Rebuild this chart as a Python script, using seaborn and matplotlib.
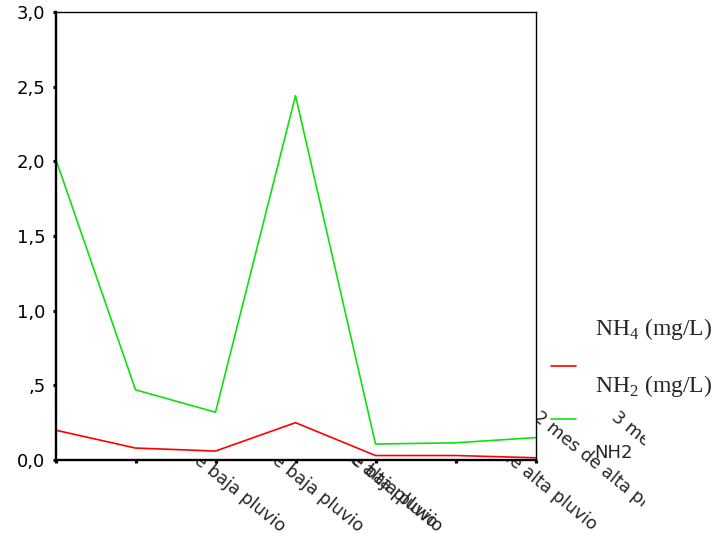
import pandas as pd
import matplotlib.pyplot as plt
import seaborn as sns
from matplotlib.lines import Line2D
from matplotlib.transforms import Bbox, TransformedBbox

# -------------------------
# Data
# -------------------------
periodos = [0, 1, 2, 3, 4, 5, 6]
nh4 = [0.20, 0.08, 0.06, 0.25, 0.03, 0.03, 0.015]
nh2 = [2.02, 0.47, 0.32, 2.44, 0.107, 0.115, 0.15]

etiquetas_x = ["", "", "1 mes de baja pluvio", "2 mes de baja pluvio",
               "3 mes de baja pluvio", "", "1 mes de alta pluvio",
               "2 mes de alta pluvio", "3 mes de alta pluvio"]
etiqueta_solapada = "Inicio de alta pluvio"   # drawn on top of tick 4

ticks_y = [0.0, 0.5, 1.0, 1.5, 2.0, 2.5, 3.0]
etiquetas_y = ["0,0", ",5", "1,0", "1,5", "2,0", "2,5", "3,0"]

series = ["NH4 (mg/L)", "NH2 (mg/L)"]
colores = {"NH4 (mg/L)": "#ff0000", "NH2 (mg/L)": "#10e010"}

df = pd.DataFrame({
    "periodo": periodos * 2,
    "valor": nh4 + nh2,
    "serie": [series[0]] * len(nh4) + [series[1]] * len(nh2),
})

# -------------------------
# Style
# -------------------------
sns.set_style("ticks")
plt.rcParams["font.family"] = ["DejaVu Sans"]
plt.rcParams["mathtext.fontset"] = "custom"
plt.rcParams["mathtext.rm"] = "Liberation Serif"

W_PX, H_PX = 719, 537
fig = plt.figure(figsize=(W_PX / 100, H_PX / 100), dpi=100)
fig.patch.set_facecolor("white")

left, bottom, height = 55.5 / W_PX, 77 / H_PX, 448 / H_PX
width = 480 / W_PX

# axes that only carries the (half hidden) category labels
ax_lab = fig.add_axes([left, bottom, 640 / W_PX, height], zorder=0)
# main plotting axes, opaque white, sits on top of the labels
ax = fig.add_axes([left, bottom, width, height], zorder=1)

# -------------------------
# Lines
# -------------------------
sns.lineplot(data=df, x="periodo", y="valor", hue="serie", palette=colores,
             ax=ax, legend=False, linewidth=1.2, sort=False)

ax.set_facecolor("white")
ax.set_xlim(0, 6)
ax.set_ylim(0, 3)
ax.set_xticks(periodos)
ax.set_xticklabels([""] * len(periodos))
ax.set_yticks(ticks_y)
ax.set_yticklabels(etiquetas_y)
ax.set_xlabel("")
ax.set_ylabel("")
ax.tick_params(direction="out", length=2.3, width=2.3, color="black",
               pad=5, labelsize=13, labelcolor="black")
for side in ["left", "bottom"]:
    ax.spines[side].set_linewidth(1.7)
for side in ["top", "right"]:
    ax.spines[side].set_linewidth(1.0)
for sp in ax.spines.values():
    sp.set_visible(True)
    sp.set_color("black")

# -------------------------
# Category labels (rotated, centred on the ticks)
# -------------------------
ax_lab.patch.set_visible(False)
for sp in ax_lab.spines.values():
    sp.set_visible(False)
ax_lab.set_xlim(0.1625, 8.1625)
ax_lab.set_ylim(0, 1)
ax_lab.set_yticks([])
ax_lab.xaxis.remove_overlapping_locs = False
ax_lab.set_xticks(range(len(etiquetas_x)))
ax_lab.set_xticklabels(etiquetas_x, rotation=-39, rotation_mode="anchor",
                       ha="center", va="center", fontsize=12.5)
ax_lab.set_xticks([4], labels=[etiqueta_solapada], minor=True,
                  rotation=-39, rotation_mode="anchor",
                  ha="center", va="center", fontsize=12.5)
ax_lab.tick_params(axis="x", which="both", length=0, pad=8)

clip = TransformedBbox(Bbox.from_extents(0, 0, 645 / W_PX, 1), fig.transFigure)
for lab in ax_lab.get_xticklabels() + ax_lab.get_xticklabels(minor=True):
    lab.set_clip_on(True)
    lab.set_clip_box(clip)

# -------------------------
# Legend (text above each key, as in the original export)
# -------------------------
leyenda = [(r"NH$_4$ (mg/L)", series[0], 335, 366),
           (r"NH$_2$ (mg/L)", series[1], 392, 419)]
for texto, serie, y_txt, y_lin in leyenda:
    fig.text(595 / W_PX, 1 - y_txt / H_PX, texto, family="Liberation Serif",
             fontsize=17, va="baseline", ha="left")
    fig.add_artist(Line2D([551 / W_PX, 576 / W_PX], [1 - y_lin / H_PX] * 2,
                          transform=fig.transFigure, color=colores[serie],
                          linewidth=1.2))
fig.text(594 / W_PX, 1 - 458 / H_PX, "NH2", fontsize=13, va="baseline", ha="left")

fig.savefig("out.png", dpi=100, facecolor="white")
